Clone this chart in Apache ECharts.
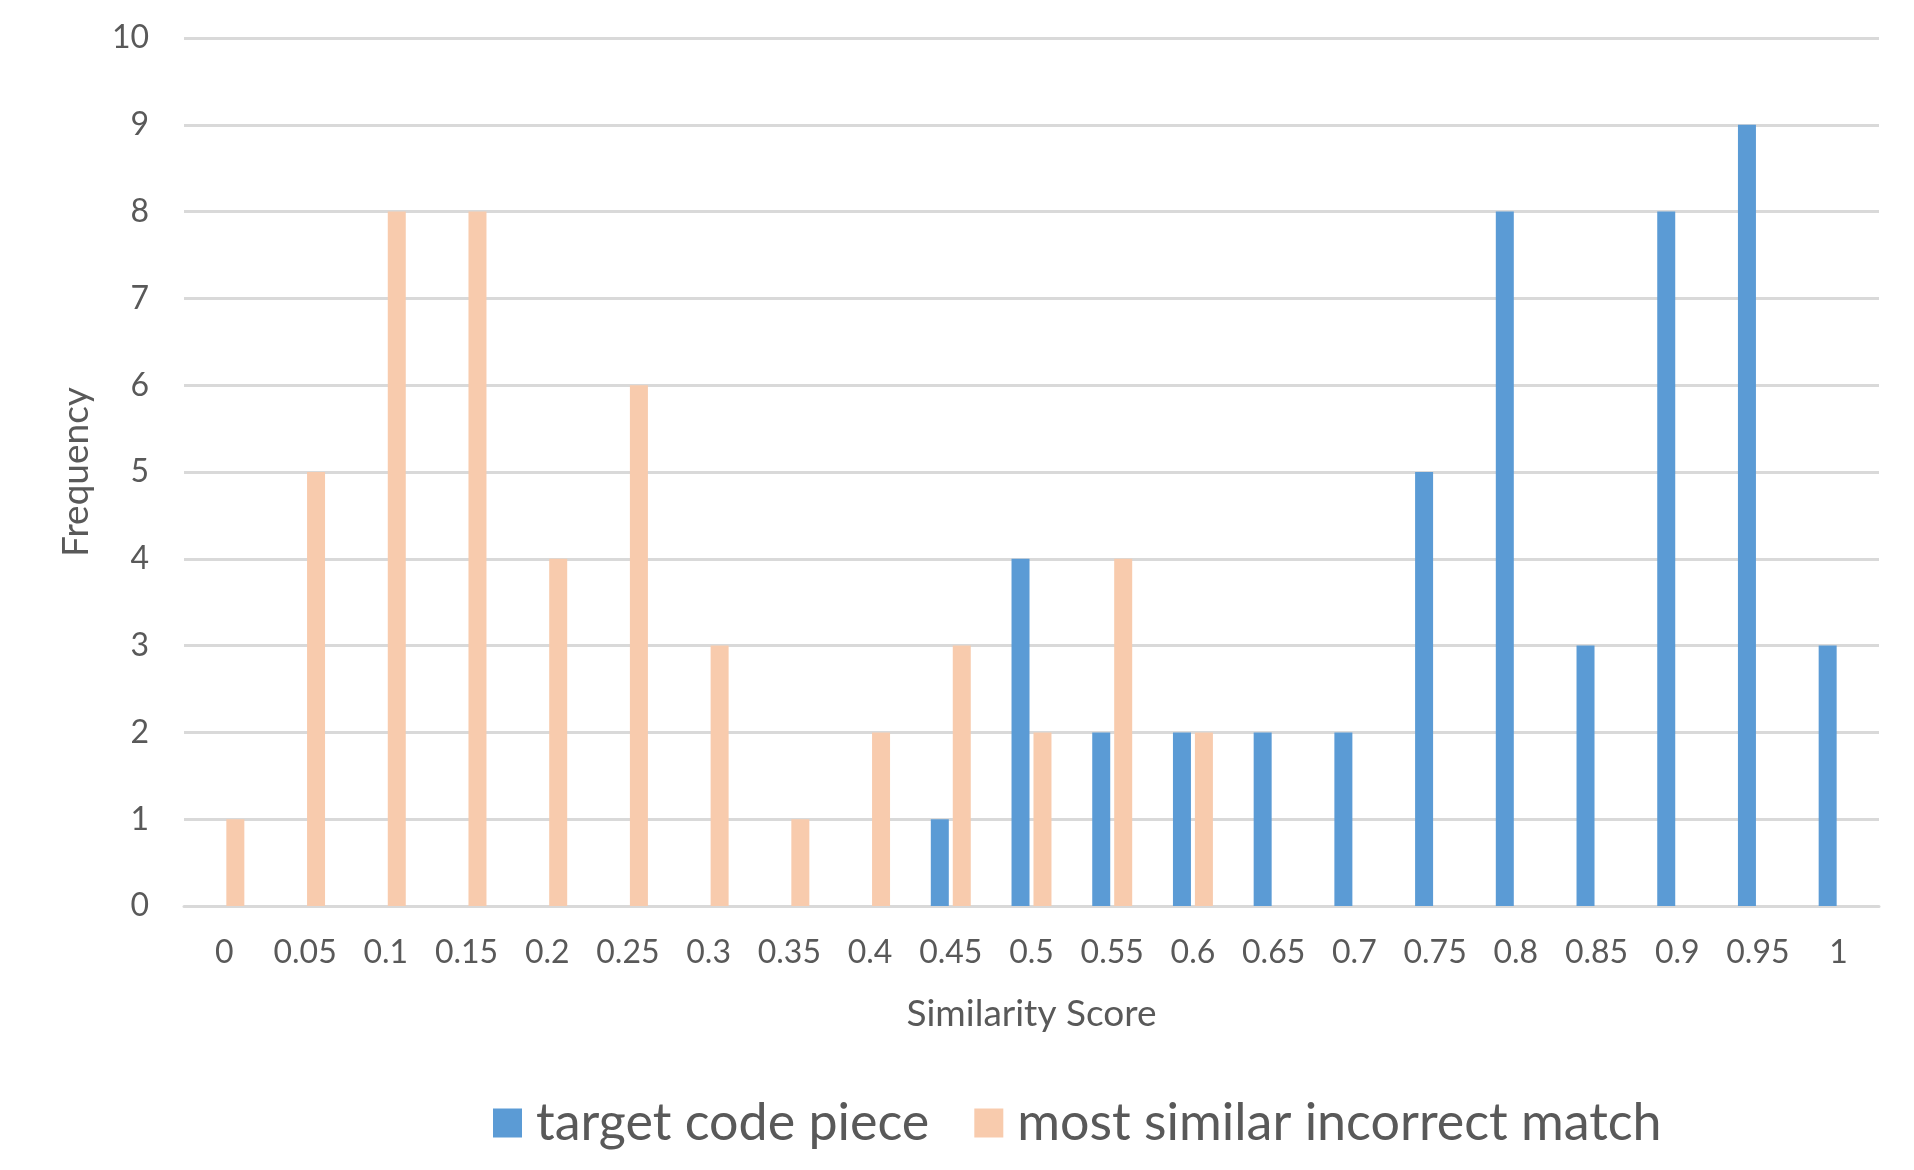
<!DOCTYPE html>
<html>
<head>
  <meta charset="utf-8">
  <title>Similarity Score histogram</title>
  <script src="https://cdn.jsdelivr.net/npm/echarts/dist/echarts.min.js"></script>
  <style>
    html, body { margin: 0; padding: 0; background: #fff; }
    #chart { width: 1914px; height: 1170px; }
  </style>
</head>
<body>
  <div id="chart"></div>
  <script>
    // categories: similarity score bins
    var scores = ['0', '0.05', '0.1', '0.15', '0.2', '0.25', '0.3', '0.35', '0.4', '0.45', '0.5',
                  '0.55', '0.6', '0.65', '0.7', '0.75', '0.8', '0.85', '0.9', '0.95', '1'];
    // frequency of the target code piece
    var targetCounts = [0, 0, 0, 0, 0, 0, 0, 0, 0, 1, 4, 2, 2, 2, 2, 5, 8, 3, 8, 9, 3];
    // frequency of the most similar incorrect match
    var incorrectCounts = [1, 5, 8, 8, 4, 6, 3, 1, 2, 3, 2, 4, 2, 0, 0, 0, 0, 0, 0, 0, 0];

    var textColor = '#595959';
    var font = 'Lato';

    var myChart = echarts.init(document.getElementById('chart'));

    var option = {
      animation: false,
      textStyle: { fontFamily: font, color: textColor },
      grid: { left: 184, right: 35, top: 38, bottom: 264 },
      legend: {
        left: 488,
        top: 1092,
        itemWidth: 29,
        itemHeight: 29,
        itemGap: 45,
        icon: 'rect',
        textStyle: { fontSize: 52, color: textColor, fontFamily: font, padding: [0, 0, 0, 9] },
        data: ['target code piece', 'most similar incorrect match']
      },
      xAxis: {
        type: 'category',
        data: scores,
        name: 'Similarity Score',
        nameLocation: 'middle',
        nameGap: 90,
        nameTextStyle: { fontSize: 37, color: textColor },
        axisLine: { lineStyle: { color: '#d9d9d9', width: 3 } },
        axisTick: { show: false },
        axisLabel: { interval: 0, fontSize: 32, color: textColor, margin: 31 }
      },
      yAxis: {
        type: 'value',
        min: 0,
        max: 10,
        interval: 1,
        name: 'Frequency',
        nameLocation: 'middle',
        nameGap: 89,
        nameTextStyle: { fontSize: 37, color: textColor },
        axisLine: { show: false },
        axisTick: { show: false },
        axisLabel: { fontSize: 32, color: textColor, margin: 35 },
        splitLine: { lineStyle: { color: '#d9d9d9', width: 3 } }
      },
      series: [
        {
          name: 'target code piece',
          type: 'bar',
          data: targetCounts,
          barWidth: 18,
          barGap: '22%',
          itemStyle: { color: '#5b9bd5' }
        },
        {
          name: 'most similar incorrect match',
          type: 'bar',
          data: incorrectCounts,
          barWidth: 18,
          barGap: '22%',
          itemStyle: { color: '#f8cbad' }
        }
      ]
    };

    myChart.setOption(option);
  </script>
</body>
</html>
